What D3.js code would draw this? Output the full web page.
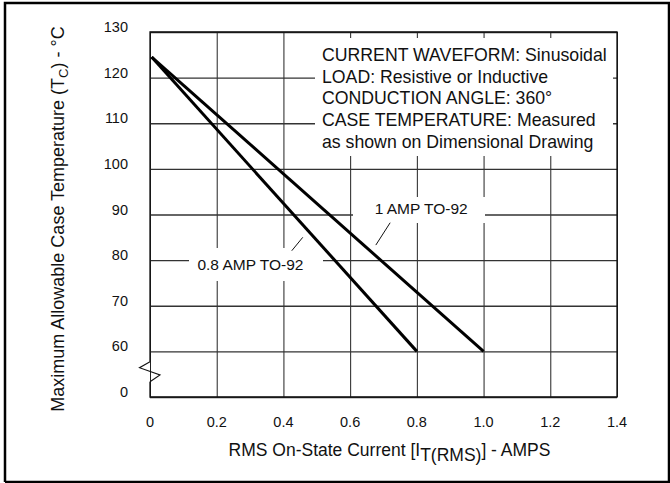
<!DOCTYPE html>
<html><head><meta charset="utf-8">
<script src="https://cdn.jsdelivr.net/npm/d3@7"></script>
<style>
body{margin:0;background:#fff;}
text{font-family:Arial,"Liberation Sans",Helvetica,sans-serif;fill:#111;}
</style></head>
<body><svg id="c" width="670" height="483"></svg>
<script>
// ---- data ----
const xTicks = [0, 0.2, 0.4, 0.6, 0.8, 1.0, 1.2, 1.4];
const xTickLabels = ["0", "0.2", "0.4", "0.6", "0.8", "1.0", "1.2", "1.4"];
const yTicks = [50, 60, 70, 80, 90, 100, 110, 120, 130];
const yTickLabels = ["0", "60", "70", "80", "90", "100", "110", "120", "130"];
const seriesNames = ["0.8 AMP TO-92", "1 AMP TO-92"];
const series08 = [[0.005, 124.5], [0.8, 60]];
const series10 = [[0.005, 124.5], [1.0, 60]];
const noteLines = ["CURRENT WAVEFORM: Sinusoidal", "LOAD: Resistive or Inductive",
  "CONDUCTION ANGLE: 360°", "CASE TEMPERATURE: Measured", "as shown on Dimensional Drawing"];

const W = 670, H = 483;
const m = {left: 150, right: 617, top: 32, bottom: 397};
const x = d3.scaleLinear().domain([0, 1.4]).range([m.left, m.right]);
const y = d3.scaleLinear().domain([50, 130]).range([m.bottom, m.top]);
const svg = d3.select("#c");

// outer frame
svg.append("path").attr("d", `M5,482 V3 H669 V482 H5`).attr("fill", "none")
  .attr("stroke", "#000").attr("stroke-width", 2.5);

// grid
const gx = svg.append("g").attr("transform", `translate(0,${m.bottom})`)
  .call(d3.axisBottom(x).tickValues(xTicks).tickSize(-(m.bottom - m.top)).tickFormat(""));
gx.select(".domain").remove();
gx.selectAll("line").attr("stroke", "#222").attr("stroke-width", 1);
const gy = svg.append("g").attr("transform", `translate(${m.left},0)`)
  .call(d3.axisLeft(y).tickValues(yTicks).tickSize(-(m.right - m.left)).tickFormat(""));
gy.select(".domain").remove();
gy.selectAll("line").attr("stroke", "#333").attr("stroke-width", 1.3);

// tick labels
svg.append("g").selectAll("text").data(xTicks).join("text")
  .attr("x", d => x(d)).attr("y", m.bottom + 30).attr("text-anchor", "middle")
  .attr("font-size", 14.5).text((d, i) => xTickLabels[i]);
svg.append("g").selectAll("text").data(yTicks).join("text")
  .attr("x", 128).attr("y", d => y(d)).attr("text-anchor", "end")
  .attr("font-size", 14.5).text((d, i) => yTickLabels[i]);

// white boxes (annotation backgrounds)
svg.append("rect").attr("x", 315).attr("y", 38).attr("width", 298).attr("height", 118).attr("fill", "#fff");
svg.append("rect").attr("x", 353).attr("y", 197).attr("width", 132).attr("height", 26).attr("fill", "#fff");
svg.append("rect").attr("x", 189).attr("y", 248).attr("width", 134).attr("height", 33).attr("fill", "#fff");

// plot border with axis break
svg.append("path").attr("fill", "none").attr("stroke", "#111").attr("stroke-width", 1.3)
  .attr("d", `M${m.left},361.7 V${m.top} H${m.right} V${m.bottom} H${m.left} V381.7`);
svg.append("path").attr("fill", "none").attr("stroke", "#111").attr("stroke-width", 1.1)
  .attr("d", `M${m.left},361.7 L139.5,367.7 L160,375 L${m.left},381.7`);

// data lines
const line = d3.line().x(d => x(d[0])).y(d => y(d[1]));
[series08, series10].forEach(s => {
  svg.append("path").datum(s).attr("d", line).attr("fill", "none")
    .attr("stroke", "#000").attr("stroke-width", 3);
});

// leader lines
const leaders = [[[0.72, 88.2], [0.677, 83.3]], [[0.458, 85.0], [0.425, 82.06]]];
leaders.forEach(l => svg.append("path").datum(l).attr("d", line)
  .attr("stroke", "#111").attr("stroke-width", 1).attr("fill", "none"));

// curve labels
svg.append("text").attr("x", x(0.813)).attr("y", y(91.4) + 5.5).attr("text-anchor", "middle")
  .attr("font-size", 15.5).text(seriesNames[1]);
svg.append("text").attr("x", x(0.301)).attr("y", y(79.15) + 5.5).attr("text-anchor", "middle")
  .attr("font-size", 15.5).text(seriesNames[0]);

// notes
svg.append("g").selectAll("text").data(noteLines).join("text")
  .attr("x", 322).attr("y", (d, i) => 61 + i * 21.7).attr("font-size", 17.7).text(d => d);

// y axis title
const yt = svg.append("text").attr("transform", "translate(64,219) rotate(-90)")
  .attr("text-anchor", "middle").attr("font-size", 18);
yt.append("tspan").text("Maximum Allowable Case Temperature (T");
yt.append("tspan").attr("font-size", 13).attr("dy", 4).text("C");
yt.append("tspan").attr("dy", -4).text(") - °C");

// x axis title
const xt = svg.append("text").attr("x", 389.5).attr("y", 456).attr("text-anchor", "middle")
  .attr("font-size", 17.5);
xt.append("tspan").text("RMS On-State Current [I");
xt.append("tspan").attr("dy", 5).text("T(RMS)");
xt.append("tspan").attr("dy", -5).text("] - AMPS");
</script></body></html>
